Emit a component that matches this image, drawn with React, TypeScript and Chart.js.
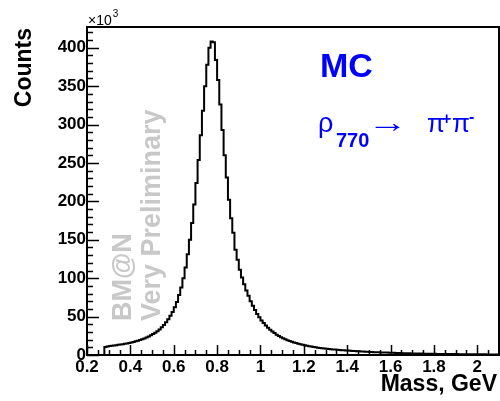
import React, { useEffect, useRef } from "react";
import { Chart, registerables } from "chart.js";

Chart.register(...registerables);

// Histogram binning (GeV)
const binStart = 0.28;
const binWidth = 0.01;
// Counts per bin, in units of 10^3
const countsK = [
  10.5, 11.2,
  11.6, 12.0, 12.4, 12.8, 13.2, 13.6, 14.0, 14.5, 15.0, 15.6,
  16.3, 17.0, 17.8, 18.6, 19.5, 20.5, 21.6, 22.8, 24.1, 25.6,
  27.2, 29.0, 31.0, 33.3, 36.0, 39.0, 42.5, 46.5, 51.0, 56.0,
  62, 69, 78, 88, 100, 114, 131, 150, 172, 196,
  224, 254, 286, 318, 350, 378, 400, 408, 407, 384,
  358, 326, 293, 260, 231, 202, 178, 159, 137, 124,
  111, 101, 92, 84, 77, 70, 64, 58.5, 53.5, 49,
  45, 41.5, 38.5, 35.5, 33, 30.5, 28.5, 26.5, 24.8, 23.2,
  21.8, 20.5, 19.3, 18.2, 17.2, 16.3, 15.5, 14.7, 14.0, 13.3,
  12.7, 12.1, 11.5, 11.0, 10.5, 10.0, 9.6, 9.2, 8.8, 8.5,
  8.2, 7.9, 7.6, 7.3, 7.0, 6.8, 6.5, 6.3, 6.1, 5.9,
  5.7, 5.5, 5.3, 5.1, 4.9, 4.8, 4.6, 4.4, 4.3, 4.1,
  4.0, 3.9, 3.7, 3.6, 3.5, 3.4, 3.3, 3.2, 3.1, 3.0,
  2.9, 2.8, 2.7, 2.6, 2.5, 2.4, 2.35, 2.25, 2.2, 2.1,
  2.05, 2.0, 1.9, 1.85, 1.8, 1.75, 1.7, 1.65, 1.6, 1.55,
  1.5, 1.45, 1.4, 1.38, 1.34, 1.3, 1.27, 1.24, 1.2, 1.17,
  1.14, 1.11, 1.08, 1.05, 1.02, 1.0, 0.97, 0.95, 0.93, 0.9,
  0.88, 0.86, 0.84, 0.82, 0.8, 0.78, 0.76, 0.75, 0.73, 0.72,
];

const xMin = 0.2;
const xMax = 2.1;
const xMajorStep = 0.2;
const xMinorStep = 0.05;
const yMin = 0;
const yMax = 427;
const yMajorStep = 50;
const yMinorStep = 10;

const xTitle = "Mass, GeV";
const yTitle = "Counts";
const watermark1 = "BM@N";
const watermark2 = "Very Preliminary";
const labelMC = "MC";

const FONT = '"Liberation Sans", Arial, Helvetica, sans-serif';

const decorPlugin = {
  id: "decor",
  beforeDatasetsDraw(chart: any) {
    const ctx = chart.ctx as CanvasRenderingContext2D;
    ctx.save();
    ctx.fillStyle = "#c8c8c8";
    ctx.font = `bold 27px ${FONT}`;
    ctx.textAlign = "left";
    ctx.textBaseline = "alphabetic";
    ctx.translate(131, 321);
    ctx.rotate(-Math.PI / 2);
    ctx.fillText(watermark1, 0, 0);
    ctx.restore();
    ctx.save();
    ctx.fillStyle = "#c8c8c8";
    ctx.font = `bold 27px ${FONT}`;
    ctx.translate(160, 321);
    ctx.rotate(-Math.PI / 2);
    ctx.fillText(watermark2, 0, 0);
    ctx.restore();
  },
  afterDraw(chart: any) {
    const ctx = chart.ctx as CanvasRenderingContext2D;
    const a = chart.chartArea;
    const xs = chart.scales.x;
    const ys = chart.scales.y;
    ctx.save();
    ctx.strokeStyle = "#000";
    ctx.lineWidth = 1.5;
    // y ticks (inward)
    const nY = Math.floor((yMax - yMin) / yMinorStep + 1e-9);
    for (let i = 0; i <= nY; i++) {
      const v = yMin + i * yMinorStep;
      const major = Math.abs(v / yMajorStep - Math.round(v / yMajorStep)) < 1e-6;
      const py = Math.round(ys.getPixelForValue(v)) + 0.5;
      ctx.beginPath();
      ctx.moveTo(a.left, py);
      ctx.lineTo(a.left + (major ? 12 : 6), py);
      ctx.stroke();
    }
    // x ticks (inward)
    const nX = Math.floor((xMax - xMin) / xMinorStep + 1e-9);
    for (let i = 0; i <= nX; i++) {
      const v = xMin + i * xMinorStep;
      const r = v / xMajorStep;
      const major = Math.abs(r - Math.round(r)) < 1e-6;
      const px = Math.round(xs.getPixelForValue(v)) + 0.5;
      ctx.beginPath();
      ctx.moveTo(px, a.bottom);
      ctx.lineTo(px, a.bottom - (major ? 10 : 5));
      ctx.stroke();
    }
    // frame
    ctx.lineWidth = 2;
    ctx.strokeRect(a.left, a.top, a.right - a.left, a.bottom - a.top);

    ctx.fillStyle = "#000";
    // x10^3
    ctx.font = `14px ${FONT}`;
    ctx.textAlign = "left";
    ctx.textBaseline = "alphabetic";
    ctx.fillText("\u00d710", 88, 25);
    const w10 = ctx.measureText("\u00d710").width;
    ctx.font = `10px ${FONT}`;
    ctx.fillText("3", 88 + w10 + 1, 17);

    // axis titles
    ctx.font = `bold 23px ${FONT}`;
    ctx.textAlign = "right";
    ctx.fillText(xTitle, 497, 391);
    ctx.save();
    ctx.translate(31, 28);
    ctx.rotate(-Math.PI / 2);
    ctx.textAlign = "right";
    ctx.fillText(yTitle, 0, 0);
    ctx.restore();

    // MC label
    ctx.fillStyle = "#0000ff";
    ctx.textAlign = "left";
    ctx.font = `bold 34px ${FONT}`;
    ctx.fillText(labelMC, 320, 77);

    // rho_770 -> pi+ pi-
    ctx.font = `27px ${FONT}`;
    ctx.fillText("\u03c1", 318, 132);
    ctx.font = `bold 20px ${FONT}`;
    ctx.fillText("770", 336, 147);
    ctx.save();
    ctx.font = `28px ${FONT}`;
    ctx.translate(367, 132);
    ctx.scale(1.45, 1);
    ctx.fillText("\u2192", 0, 0);
    ctx.restore();
    ctx.font = `26px ${FONT}`;
    ctx.fillText("\u03c0", 427, 132);
    ctx.font = `bold 16px ${FONT}`;
    ctx.fillText("+", 442, 124);
    ctx.font = `26px ${FONT}`;
    ctx.fillText("\u03c0", 452, 132);
    ctx.font = `bold 16px ${FONT}`;
    ctx.fillText("-", 469, 122);
    ctx.restore();
  },
};

export default function App() {
  const ref = useRef<HTMLCanvasElement>(null);
  useEffect(() => {
    document.body.style.margin = "0";
    const points: { x: number; y: number }[] = [{ x: binStart, y: 0 }];
    countsK.forEach((c, i) => points.push({ x: binStart + i * binWidth, y: c }));
    points.push({ x: binStart + countsK.length * binWidth, y: countsK[countsK.length - 1] });

    const tickFont = { family: FONT, size: 17, weight: "bold" as const };
    const chart = new Chart(ref.current!, {
      type: "line",
      data: {
        datasets: [
          {
            data: points,
            stepped: "before",
            borderColor: "#000",
            borderWidth: 2,
            pointRadius: 0,
            fill: false,
          } as any,
        ],
      },
      options: {
        animation: false,
        responsive: false,
        devicePixelRatio: 1,
        layout: { padding: { top: 27, right: 1, left: 0, bottom: 0 } },
        plugins: { legend: { display: false }, tooltip: { enabled: false } },
        scales: {
          x: {
            type: "linear",
            position: "bottom",
            min: xMin,
            max: xMax,
            grid: { display: false, drawTicks: false },
            border: { display: false },
            ticks: {
              stepSize: xMajorStep,
              includeBounds: false,
              autoSkip: false,
              maxRotation: 0,
              padding: 2,
              color: "#000",
              font: tickFont,
              callback: (v: any) => String(Number(Number(v).toFixed(1))),
            },
            afterFit: (s: any) => {
              s.height = 46;
            },
          },
          y: {
            type: "linear",
            min: yMin,
            max: yMax,
            grid: { display: false, drawTicks: false },
            border: { display: false },
            ticks: {
              stepSize: yMajorStep,
              includeBounds: false,
              padding: 1,
              color: "#000",
              font: tickFont,
              callback: (v: any) => String(Math.round(Number(v))),
            },
            afterFit: (s: any) => {
              s.width = 87;
            },
          },
        },
      },
      plugins: [decorPlugin],
    });
    return () => chart.destroy();
  }, []);
  return (
    <div style={{ position: "absolute", left: 0, top: 0, width: 500, height: 401 }}>
      <canvas ref={ref} width={500} height={401} style={{ display: "block" }} />
    </div>
  );
}
